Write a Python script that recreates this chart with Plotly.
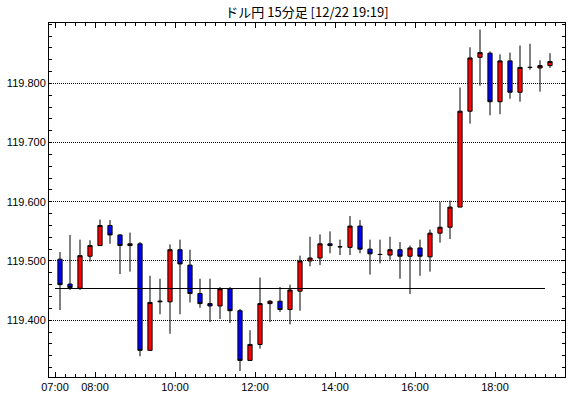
import pandas as pd
import plotly.graph_objects as go

# ---- data ----
title_text = "ドル円 15分足 [12/22 19:19]"
times = pd.date_range("2015-12-22 07:00", periods=50, freq="15min")

opens = [119.503, 119.461, 119.454, 119.508, 119.526, 119.560, 119.544, 119.526, 119.529, 119.349,
         119.431, 119.431, 119.519, 119.493, 119.445, 119.428, 119.424, 119.453, 119.416, 119.332,
         119.359, 119.428, 119.432, 119.418, 119.449, 119.500, 119.505, 119.529, 119.524, 119.523,
         119.559, 119.520, 119.511, 119.510, 119.519, 119.508, 119.522, 119.507, 119.547, 119.557,
         119.591, 119.753, 119.844, 119.851, 119.769, 119.838, 119.785, 119.827, 119.826, 119.830]
highs = [119.515, 119.544, 119.536, 119.535, 119.570, 119.569, 119.545, 119.548, 119.532, 119.475,
         119.470, 119.528, 119.536, 119.519, 119.470, 119.470, 119.456, 119.456, 119.419, 119.383,
         119.472, 119.434, 119.456, 119.460, 119.509, 119.541, 119.545, 119.550, 119.536, 119.576,
         119.569, 119.536, 119.536, 119.541, 119.532, 119.526, 119.536, 119.553, 119.600, 119.602,
         119.793, 119.861, 119.891, 119.854, 119.849, 119.852, 119.864, 119.867, 119.839, 119.851]
lows = [119.417, 119.451, 119.451, 119.499, 119.526, 119.529, 119.478, 119.482, 119.339, 119.349,
        119.410, 119.377, 119.410, 119.430, 119.421, 119.397, 119.402, 119.395, 119.314, 119.332,
        119.352, 119.397, 119.414, 119.393, 119.416, 119.491, 119.493, 119.513, 119.510, 119.510,
        119.513, 119.477, 119.496, 119.502, 119.470, 119.444, 119.475, 119.482, 119.531, 119.537,
        119.591, 119.732, 119.796, 119.746, 119.748, 119.774, 119.769, 119.823, 119.786, 119.826]
closes = [119.460, 119.455, 119.509, 119.526, 119.560, 119.544, 119.526, 119.529, 119.349, 119.430,
          119.432, 119.519, 119.495, 119.445, 119.428, 119.424, 119.453, 119.416, 119.332, 119.359,
          119.428, 119.432, 119.418, 119.451, 119.500, 119.505, 119.529, 119.526, 119.524, 119.559,
          119.520, 119.512, 119.511, 119.519, 119.508, 119.522, 119.508, 119.547, 119.557, 119.591,
          119.753, 119.843, 119.852, 119.769, 119.838, 119.785, 119.827, 119.827, 119.830, 119.837]

ref_level = 119.4535
ref_start = "2015-12-22 07:00"
ref_end = "2015-12-22 19:15"

tick_times = ["2015-12-22 07:00", "2015-12-22 08:00", "2015-12-22 10:00", "2015-12-22 12:00",
              "2015-12-22 14:00", "2015-12-22 16:00", "2015-12-22 18:00"]
tick_labels = ["07:00", "08:00", "10:00", "12:00", "14:00", "16:00", "18:00"]
y_ticks = [119.4, 119.5, 119.6, 119.7, 119.8]
y_labels = ["119.400", "119.500", "119.600", "119.700", "119.800"]

# ---- figure ----
fig = go.Figure()
fig.add_trace(go.Candlestick(
    x=times, open=opens, high=highs, low=lows, close=closes,
    xperiod=15 * 60 * 1000, xperiodalignment="middle",
    increasing=dict(fillcolor="#ff0000", line=dict(color="#000000", width=1)),
    decreasing=dict(fillcolor="#0000ff", line=dict(color="#000000", width=1)),
    whiskerwidth=0, showlegend=False, hoverinfo="skip",
))
fig.add_trace(go.Scatter(
    x=[ref_start, ref_end], y=[ref_level, ref_level], mode="lines",
    line=dict(color="#000000", width=1.2), showlegend=False, hoverinfo="skip",
))

axis_font = dict(family="Liberation Sans, Arial, sans-serif", size=11, color="#000000")
fig.update_layout(
    width=570, height=398,
    margin=dict(l=49, r=5, t=23, b=21, autoexpand=False),
    paper_bgcolor="#ffffff", plot_bgcolor="#ffffff",
    boxgap=0.4,
    title=dict(text=title_text, x=0.5, xref="paper", xanchor="center",
               y=1 - 12 / 398, yref="container", yanchor="middle",
               font=dict(family="Noto Sans CJK JP", size=13, color="#000000")),
    xaxis=dict(
        type="date", range=["2015-12-22 06:51", "2015-12-22 19:45"],
        rangeslider=dict(visible=False), automargin=False,
        tickmode="array", tickvals=tick_times, ticktext=tick_labels,
        ticks="inside", ticklen=5, tickcolor="#000000", tickwidth=1,
        showline=True, linecolor="#000000", linewidth=1, mirror="ticks",
        showgrid=False, zeroline=False, tickfont=axis_font,
        minor=dict(tickmode="linear", tick0="2015-12-22 07:00", dtick=15 * 60 * 1000,
                   ticks="inside", ticklen=3, tickcolor="#000000", showgrid=False),
    ),
    yaxis=dict(
        range=[119.304, 119.902], automargin=False,
        tickmode="array", tickvals=y_ticks, ticktext=y_labels,
        ticks="inside", ticklen=3, tickcolor="#000000",
        showline=True, linecolor="#000000", linewidth=1, mirror="ticks",
        showgrid=True, gridcolor="#000000", gridwidth=1, griddash="1px,1px",
        zeroline=False, tickfont=axis_font,
        minor=dict(tickmode="linear", tick0=119.3, dtick=0.02,
                   ticks="inside", ticklen=3, tickcolor="#000000", showgrid=False),
    ),
)

fig.write_html("out.html", config={"displayModeBar": False},
               post_script="document.body.style.margin='0';document.body.style.overflow='hidden';")
